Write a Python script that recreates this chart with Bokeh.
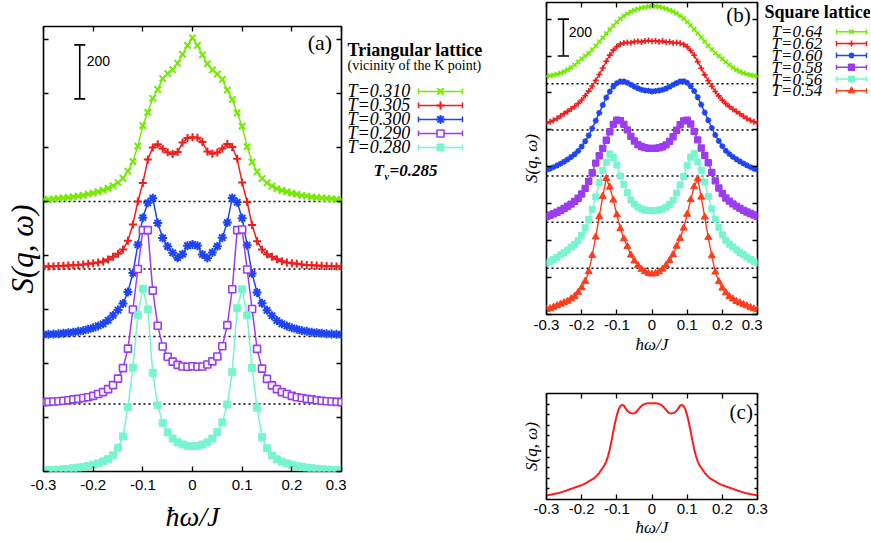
from bokeh.plotting import figure
from bokeh.models import Range1d, FixedTicker, CustomJSTickFormatter, LinearAxis, Span, ColumnDataSource
from bokeh.layouts import row, column
from bokeh.embed import file_html
from bokeh.resources import INLINE
from bokeh.core.properties import value

# ---------------- data ----------------
X = [round(-0.30 + 0.01 * i, 2) for i in range(61)]
XC = [round(-0.30 + 0.005 * i, 3) for i in range(121)]
X_TICKS = [-0.3, -0.2, -0.1, 0.0, 0.1, 0.2, 0.3]

# (a) triangular lattice, vicinity of the K point
TRI_LABELS = ["T=0.310", "T=0.305", "T=0.300", "T=0.290", "T=0.280"]
TRI_OFFSETS = [1000, 750, 500, 250, 0]
TRI_310 = [7, 8, 10, 11, 13, 15, 17, 20, 23, 27, 31, 36, 42, 49, 58, 70, 86, 112, 148, 205,
           281, 330, 382, 415, 455, 474, 488, 512, 545, 578, 606,
           578, 543, 510, 487, 472, 452, 412, 378, 328, 279, 203, 146, 110, 85, 69, 57, 48, 41, 36,
           31, 27, 23, 20, 17, 15, 13, 11, 10, 8, 7]
TRI_305 = [9, 9, 10, 11, 12, 13, 14, 15, 17, 19, 21, 24, 28, 35, 45, 56, 72, 105, 165, 250,
           318, 405, 450, 462, 445, 432, 426, 433, 468, 485, 488,
           486, 470, 435, 427, 431, 446, 463, 452, 408, 320, 248, 163, 103, 72, 55, 45, 36, 29, 24,
           21, 19, 17, 15, 14, 13, 12, 11, 10, 9, 9]
TRI_300 = [7, 8, 9, 10, 12, 14, 16, 19, 22, 27, 32, 39, 47, 60, 78, 98, 122, 165, 235, 340,
           440, 495, 512, 420, 365, 333, 310, 292, 305, 336, 341,
           336, 304, 291, 311, 334, 366, 422, 513, 497, 438, 338, 233, 163, 123, 97, 77, 59, 47, 39,
           32, 27, 22, 19, 16, 14, 12, 10, 9, 8, 7]
TRI_290 = [7, 8, 9, 10, 12, 14, 17, 19, 22, 25, 30, 37, 44, 55, 70, 94, 133, 205, 350, 500,
           644, 644, 420, 290, 213, 175, 157, 145, 139, 138, 140,
           138, 139, 146, 158, 176, 214, 292, 425, 644, 646, 498, 352, 204, 131, 93, 69, 55, 44, 37,
           30, 25, 22, 19, 17, 14, 12, 10, 9, 8, 7]
TRI_280 = [4, 5, 6, 7, 8, 10, 12, 14, 17, 20, 25, 30, 37, 46, 60, 88, 130, 238, 385, 580,
           677, 600, 365, 245, 180, 145, 122, 108, 100, 95, 94,
           95, 100, 108, 122, 146, 182, 248, 368, 605, 675, 578, 383, 236, 128, 86, 59, 45, 36, 30,
           25, 20, 17, 14, 12, 10, 8, 7, 6, 5, 4]

# (b) square lattice
SQ_LABELS = ["T=0.64", "T=0.62", "T=0.60", "T=0.58", "T=0.56", "T=0.54"]
SQ_OFFSETS = [1250, 1000, 750, 500, 250, 0]
SQ_064 = [40, 43, 47, 52, 58, 66, 76, 88, 102, 118, 135, 150, 165, 185, 205, 228, 250, 272, 294, 315,
          334, 352, 367, 380, 390, 398, 405, 411, 415, 418, 420,
          419, 417, 412, 406, 399, 391, 381, 368, 353, 335, 316, 295, 273, 251, 229, 206, 186, 166, 150,
          134, 118, 102, 88, 76, 66, 58, 52, 47, 43, 40]
SQ_062 = [38, 44, 52, 62, 75, 88, 100, 113, 127, 143, 162, 185, 210, 238, 268, 300, 335, 372, 405, 432,
          452, 465, 470, 474, 472, 478, 480, 476, 482, 484, 480,
          482, 478, 481, 475, 477, 471, 473, 469, 463, 450, 430, 404, 370, 334, 298, 266, 236, 208, 184,
          161, 142, 126, 112, 99, 87, 74, 62, 52, 44, 38]
SQ_060 = [34, 40, 48, 57, 67, 78, 90, 103, 118, 135, 160, 188, 220, 258, 300, 342, 385, 425, 458, 485,
          503, 512, 512, 505, 495, 484, 475, 468, 464, 462, 458,
          461, 463, 467, 474, 483, 494, 504, 512, 514, 505, 486, 460, 427, 387, 344, 302, 260, 222, 190,
          162, 137, 119, 104, 91, 79, 68, 58, 48, 40, 34]
SQ_058 = [30, 38, 46, 54, 63, 74, 86, 98, 113, 130, 153, 183, 222, 268, 320, 360, 400, 444, 490, 530,
          553, 550, 530, 500, 465, 440, 420, 410, 404, 400, 400,
          400, 403, 409, 419, 438, 463, 498, 528, 549, 553, 532, 492, 446, 402, 362, 322, 270, 224, 185,
          155, 131, 114, 99, 87, 75, 64, 55, 47, 39, 31]
SQ_056 = [28, 38, 48, 60, 74, 85, 99, 115, 130, 150, 180, 220, 265, 320, 387, 465, 530, 575, 620, 600,
          560, 500, 455, 410, 370, 348, 332, 322, 316, 313, 312,
          313, 316, 321, 331, 347, 369, 408, 452, 498, 558, 602, 621, 577, 532, 468, 390, 322, 267, 222,
          182, 151, 131, 116, 100, 86, 75, 61, 49, 39, 29]
SQ_054 = [27, 32, 40, 48, 56, 64, 72, 85, 98, 120, 145, 180, 232, 320, 420, 530, 640, 737, 690, 620,
          540, 465, 410, 368, 322, 290, 265, 245, 232, 223, 219,
          222, 231, 246, 266, 292, 324, 370, 412, 468, 543, 622, 692, 735, 636, 528, 418, 318, 230, 178,
          143, 118, 97, 84, 71, 63, 55, 47, 39, 31, 26]

# (c) model curve
C_CURVE = [0.40, 0.42, 0.45, 0.48, 0.51, 0.55, 0.58, 0.62, 0.67, 0.72,
           0.77, 0.82, 0.88, 0.94, 1.00, 1.06, 1.12, 1.18, 1.24, 1.30,
           1.36, 1.43, 1.51, 1.60, 1.70, 1.80, 1.90, 2.00, 2.15, 2.32,
           2.52, 2.75, 3.00, 3.25, 3.60, 4.10, 4.75, 5.55, 6.40, 7.25,
           7.95, 8.50, 8.82, 8.92, 8.86, 8.60, 8.38, 8.22, 8.15, 8.12,
           8.15, 8.25, 8.45, 8.65, 8.82, 8.95, 9.02, 9.06, 9.07, 9.07,
           9.06,
           9.07, 9.07, 9.06, 9.02, 8.95, 8.82, 8.65, 8.45, 8.25, 8.15,
           8.12, 8.15, 8.22, 8.38, 8.60, 8.86, 8.92, 8.82, 8.50, 7.95,
           7.25, 6.40, 5.55, 4.75, 4.10, 3.60, 3.25, 3.00, 2.75, 2.52,
           2.32, 2.15, 2.00, 1.90, 1.80, 1.70, 1.60, 1.51, 1.43, 1.36,
           1.30, 1.24, 1.18, 1.12, 1.06, 1.00, 0.94, 0.88, 0.82, 0.77,
           0.72, 0.67, 0.62, 0.58, 0.55, 0.51, 0.48, 0.45, 0.42, 0.40]

# ---------------- style ----------------
SERIF = "Liberation Serif"
SANS = "Liberation Sans"
GREEN, RED, BLUE, PURPLE, AQUA, ORANGE = "#74ea00", "#f21c1c", "#1f44f2", "#9b3cf0", "#78f5cf", "#ff3c1e"

TRI_STYLE = [(GREEN, "x", 9, 2.0, GREEN), (RED, "cross", 8, 2.0, RED), (BLUE, "asterisk", 9, 2.0, BLUE),
             (PURPLE, "square", 7, 1.6, "white"), (AQUA, "square", 7, 1.0, AQUA)]
SQ_STYLE = [(GREEN, "x", 6, 1.6, GREEN), (RED, "cross", 6, 1.6, RED), (BLUE, "asterisk", 6, 1.6, BLUE),
            (PURPLE, "square", 6, 1.4, PURPLE), (AQUA, "square", 6, 1.0, AQUA), (ORANGE, "triangle", 7, 1.0, ORANGE)]

FMT = CustomJSTickFormatter(code="return Math.abs(tick) < 1e-9 ? '0' : tick.toFixed(1);")


def blank_fmt():
    return CustomJSTickFormatter(code="return '';")


def panel(w, h, ymax, mb):
    p = figure(width=w, height=h, x_range=Range1d(-0.3, 0.3), y_range=Range1d(0, ymax),
               output_backend="svg", toolbar_location=None,
               min_border_left=mb[0], min_border_right=mb[1], min_border_top=mb[2], min_border_bottom=mb[3])
    p.xgrid.visible = False
    p.ygrid.visible = False
    p.outline_line_color = "black"
    p.outline_line_width = 1.6
    p.outline_line_alpha = 1.0
    p.background_fill_color = "white"
    p.border_fill_color = "white"
    return p


def dress(p, yticks, ytick_len, ylabel, ysize, ystand, xlabel, xsize, xstand, tstand):
    for ax in list(p.xaxis) + list(p.yaxis):
        ax.axis_line_color = None
        ax.major_tick_out = 0
        ax.minor_tick_line_color = None
        ax.major_tick_line_color = "black"
        ax.major_tick_line_width = 1.3
    xa = p.xaxis[0]
    xa.ticker = FixedTicker(ticks=X_TICKS)
    xa.formatter = FMT
    xa.major_tick_in = 5
    xa.major_label_text_font = SANS
    xa.major_label_text_font_size = "15px"
    xa.major_label_text_color = "black"
    xa.major_label_standoff = tstand
    xa.axis_label = xlabel
    xa.axis_label_text_font = SERIF
    xa.axis_label_text_font_style = "italic"
    xa.axis_label_text_font_size = xsize
    xa.axis_label_text_color = "black"
    xa.axis_label_standoff = xstand
    ya = p.yaxis[0]
    ya.ticker = FixedTicker(ticks=yticks)
    ya.formatter = blank_fmt()
    ya.major_tick_in = ytick_len
    ya.major_label_standoff = 0
    ya.major_label_text_font_size = "0px"
    ya.axis_label = ylabel
    ya.axis_label_text_font = SERIF
    ya.axis_label_text_font_style = "italic"
    ya.axis_label_text_font_size = ysize
    ya.axis_label_text_color = "black"
    ya.axis_label_standoff = ystand
    for loc, tk, ln in (("right", yticks, ytick_len), ("above", X_TICKS, 5)):
        ax = LinearAxis(ticker=FixedTicker(ticks=tk), formatter=blank_fmt(), major_tick_in=ln,
                        major_tick_out=0, axis_line_color=None, minor_tick_line_color=None,
                        major_tick_line_color="black", major_tick_line_width=1.3,
                        major_label_text_font_size="0px", major_label_standoff=0)
        p.add_layout(ax, loc)


def scale_bar(p, x, y0, y1, cap, tx, ty, fs):
    p.segment(x0=[x, x - cap, x - cap], y0=[y0, y0, y1], x1=[x, x + cap, x + cap], y1=[y1, y0, y1],
              line_color="black", line_width=1.6)
    p.text(x=[tx], y=[ty], text=["200"], text_font=value(SANS), text_font_size=fs,
           text_baseline="middle", text_align="left", text_color="black")


def draw_series(p, series, offsets, styles, lw):
    for vals, off, (col, mk, sz, mlw, fill) in zip(series, offsets, styles):
        ys = [v + off for v in vals]
        p.line(X, ys, line_color=col, line_width=lw)
        p.scatter(X, ys, marker=mk, size=sz, line_color=col, line_width=mlw, fill_color=fill)


# ---------------- panel (a) ----------------
pa = panel(346, 541, 1648, (43, 5, 26, 70))
dress(pa, [0, 200, 400, 600, 800, 1000, 1200, 1400, 1600], 5, "S(q, ω)", "31px", 4, "ħω/J", "28px", 8, 8)
for off in TRI_OFFSETS[:-1]:
    pa.add_layout(Span(location=off, dimension="width", line_color="black", line_width=1.6,
                       line_dash="2 3", level="underlay"))
draw_series(pa, [TRI_310, TRI_305, TRI_300, TRI_290, TRI_280], TRI_OFFSETS, TRI_STYLE, 1.5)
scale_bar(pa, -0.227, 1380, 1580, 0.011, -0.213, 1522, "14px")
pa.text(x=[0.281], y=[1588], text=["(a)"], text_font=value(SERIF), text_font_size="22px",
        text_baseline="middle", text_align="right", text_color="black")


# ---------------- legend figures ----------------
def blank_fig(w, h, x0, y0):
    p = figure(width=w, height=h, x_range=Range1d(x0, x0 + w), y_range=Range1d(y0 + h, y0),
               output_backend="svg", toolbar_location=None, min_border=0,
               x_axis_type=None, y_axis_type=None)
    p.outline_line_color = None
    p.xgrid.visible = False
    p.ygrid.visible = False
    p.background_fill_color = "white"
    p.border_fill_color = "white"
    return p


def legend_rows(p, labels, ys, styles, tx, lx0, lx1, fs, cap):
    n = len(labels)
    p.text(x=[tx] * n, y=ys, text=labels, text_font=value(SERIF), text_font_style="italic",
           text_font_size=fs, text_baseline="middle", text_align="left", text_color="black")
    cols = [s[0] for s in styles]
    p.segment(x0=[lx0] * n, y0=ys, x1=[lx1] * n, y1=ys, line_color=cols, line_width=1.5)
    p.segment(x0=[lx0] * n, y0=[y - cap for y in ys], x1=[lx0] * n, y1=[y + cap for y in ys],
              line_color=cols, line_width=1.5)
    p.segment(x0=[lx1] * n, y0=[y - cap for y in ys], x1=[lx1] * n, y1=[y + cap for y in ys],
              line_color=cols, line_width=1.5)
    src = ColumnDataSource(dict(x=[(lx0 + lx1) / 2] * n, y=ys, m=[s[1] for s in styles],
                                s=[s[2] for s in styles], c=cols, lw=[s[3] for s in styles],
                                f=[s[4] for s in styles]))
    p.scatter("x", "y", marker="m", size="s", line_color="c", line_width="lw", fill_color="f", source=src)


la = blank_fig(154, 541, 346, 0)
la.text(x=[347], y=[28], text=["Triangular lattice"], text_font=value(SERIF), text_font_style="bold",
        text_font_size="18px", text_baseline="middle", text_color="black")
la.text(x=[347], y=[48], text=["(vicinity of the K point)"], text_font=value(SERIF),
        text_font_size="14px", text_baseline="middle", text_color="black")
legend_rows(la, TRI_LABELS, [79, 96, 113, 130, 147], TRI_STYLE, 347, 418, 462, "18px", 3.5)
la.text(x=[373], y=[175], text=["T"], text_font=value(SERIF), text_font_style="bold italic",
        text_font_size="17px", text_baseline="middle", text_color="black")
la.text(x=[384], y=[182], text=["v"], text_font=value(SERIF), text_font_style="bold italic",
        text_font_size="10px", text_baseline="middle", text_color="black")
la.text(x=[389], y=[175], text=["=0.285"], text_font=value(SERIF), text_font_style="bold italic",
        text_font_size="17px", text_baseline="middle", text_color="black")

# ---------------- panel (b) ----------------
pb = panel(262, 362, 1690, (46, 5, 2, 48))
dress(pb, [0, 200, 400, 600, 800, 1000, 1200, 1400, 1600], 5, "S(q, ω)", "17px", 6, "ħω/J", "17px", 2, 5)
for off in SQ_OFFSETS[:-1]:
    pb.add_layout(Span(location=off, dimension="width", line_color="black", line_width=1.5,
                       line_dash="2 3", level="underlay"))
draw_series(pb, [SQ_064, SQ_062, SQ_060, SQ_058, SQ_056, SQ_054], SQ_OFFSETS, SQ_STYLE, 1.4)
scale_bar(pb, -0.252, 1400, 1600, 0.016, -0.237, 1530, "14px")
pb.text(x=[0.281], y=[1622], text=["(b)"], text_font=value(SERIF), text_font_size="21px",
        text_baseline="middle", text_align="right", text_color="black")

lb = blank_fig(108, 362, 762, 0)
lb.text(x=[764], y=[11], text=["Square lattice"], text_font=value(SERIF), text_font_style="bold",
        text_font_size="18px", text_baseline="middle", text_color="black")
legend_rows(lb, SQ_LABELS, [34, 47.7, 61.4, 75.1, 88.8, 102.5], SQ_STYLE, 771, 836, 866, "17px", 3)

# ---------------- panel (c) ----------------
pc = panel(370, 179, 10, (46, 113, 31, 42))
dress(pc, [1, 2, 3, 4, 5, 6, 7, 8, 9], 3, "S(q, ω)", "17px", 6, "ħω/J", "17px", 1, 4)
pc.line(XC, C_CURVE, line_color="#ff1a1a", line_width=2)
pc.text(x=[0.287], y=[8.25], text=["(c)"], text_font=value(SERIF), text_font_size="21px",
        text_baseline="middle", text_align="right", text_color="black")

layout = row(pa, la, column(row(pb, lb), pc))
open("out.html", "w").write(file_html(layout, INLINE))
